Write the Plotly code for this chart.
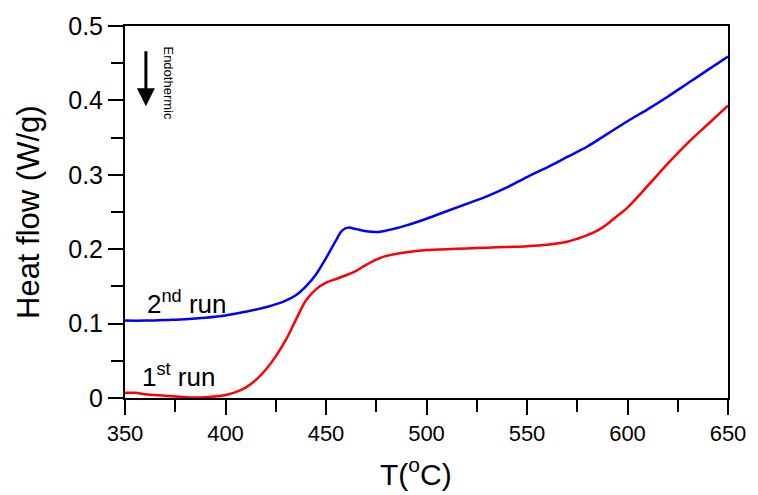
import plotly.graph_objects as go

run2_T = [350, 360, 370, 380, 390, 400, 410, 420, 430, 435, 440, 445, 450, 455, 458, 461, 465, 470, 475, 480,
          490, 500, 510, 520, 530, 540, 550, 560, 570, 580, 590, 600, 610, 620, 630, 640, 650]
run2_hf = [0.104, 0.104, 0.105, 0.106, 0.108, 0.111, 0.116, 0.122, 0.131, 0.138, 0.150, 0.166, 0.188, 0.212,
           0.225, 0.229, 0.227, 0.224, 0.223, 0.225, 0.232, 0.241, 0.251, 0.261, 0.271, 0.283, 0.297, 0.310,
           0.324, 0.338, 0.355, 0.372, 0.388, 0.405, 0.423, 0.441, 0.459]

run1_T = [350, 355, 360, 370, 380, 390, 400, 405, 410, 415, 420, 425, 430, 435, 440, 445, 450, 455, 460, 465,
          470, 475, 480, 490, 500, 510, 520, 530, 540, 550, 560, 570, 575, 580, 585, 590, 595, 600, 610, 620,
          630, 640, 650]
run1_hf = [0.007, 0.007, 0.005, 0.003, 0.001, 0.001, 0.004, 0.008, 0.014, 0.024, 0.038, 0.056, 0.078, 0.105,
           0.131, 0.146, 0.155, 0.160, 0.165, 0.171, 0.179, 0.186, 0.191, 0.196, 0.199, 0.200, 0.201, 0.202,
           0.203, 0.204, 0.206, 0.210, 0.214, 0.219, 0.225, 0.234, 0.245, 0.256, 0.285, 0.315, 0.343, 0.368,
           0.393]

x_ticks = [350, 400, 450, 500, 550, 600, 650]
y_ticks = [0, 0.1, 0.2, 0.3, 0.4, 0.5]
y_tick_labels = ["0", "0.1", "0.2", "0.3", "0.4", "0.5"]

FONT = "Liberation Sans, Arial, sans-serif"

fig = go.Figure()
fig.add_trace(go.Scatter(x=run2_T, y=run2_hf, mode="lines", line=dict(color="#0000ff", width=2.5, shape="spline"),
                         showlegend=False))
fig.add_trace(go.Scatter(x=run1_T, y=run1_hf, mode="lines", line=dict(color="#ff0000", width=2.5, shape="spline"),
                         showlegend=False))

fig.add_annotation(x=360.4, y=0.392, ax=360.4, ay=0.468, xref="x", yref="y", axref="x", ayref="y",
                   text="", showarrow=True, arrowhead=2, arrowsize=1.2, arrowwidth=3, arrowcolor="black")
fig.add_annotation(x=371.8, y=0.423, xref="x", yref="y", text="Endothermic", textangle=90, showarrow=False,
                   font=dict(family=FONT, size=13, color="black"))
fig.add_annotation(x=381, y=0.128, xref="x", yref="y", text="2<sup>nd</sup> run", showarrow=False,
                   font=dict(family=FONT, size=26, color="black"))
fig.add_annotation(x=376.5, y=0.03, xref="x", yref="y", text="1<sup>st</sup> run", showarrow=False,
                   font=dict(family=FONT, size=26, color="black"))

# axis titles
fig.add_annotation(x=0, y=0.5, xref="paper", yref="paper", xshift=-97, text="Heat flow (W/g)", textangle=-90,
                   showarrow=False, xanchor="center", yanchor="middle",
                   font=dict(family=FONT, size=31, color="black"))
fig.add_annotation(x=0.482, y=0, xref="paper", yref="paper", yshift=-74, text="T(<sup>o</sup>C)",
                   showarrow=False, xanchor="center", yanchor="middle",
                   font=dict(family=FONT, size=30, color="black"))

fig.update_layout(
    width=758, height=495,
    margin=dict(l=125, r=27, t=20, b=97),
    paper_bgcolor="white", plot_bgcolor="white",
    font=dict(family=FONT, color="black"),
    xaxis=dict(range=[350, 650], tickvals=x_ticks, ticks="outside", ticklen=15, tickwidth=1.5,
               tickcolor="black", showline=True, linecolor="black", linewidth=2, mirror=True,
               showgrid=False, zeroline=False, tickfont=dict(size=22),
               minor=dict(dtick=25, tick0=350, ticks="outside", ticklen=12, tickwidth=1.5, tickcolor="black",
                          showgrid=False)),
    yaxis=dict(range=[0, 0.5], tickvals=y_ticks, ticktext=y_tick_labels, ticks="outside", ticklen=15,
               tickwidth=1.5, tickcolor="black", showline=True, linecolor="black", linewidth=2, mirror=True,
               showgrid=False, zeroline=False, tickfont=dict(size=25),
               minor=dict(dtick=0.05, tick0=0, ticks="outside", ticklen=12, tickwidth=1.5, tickcolor="black",
                          showgrid=False)),
)

fig.write_html("out.html", config={"displayModeBar": False},
               post_script="document.body.style.margin='0';")
